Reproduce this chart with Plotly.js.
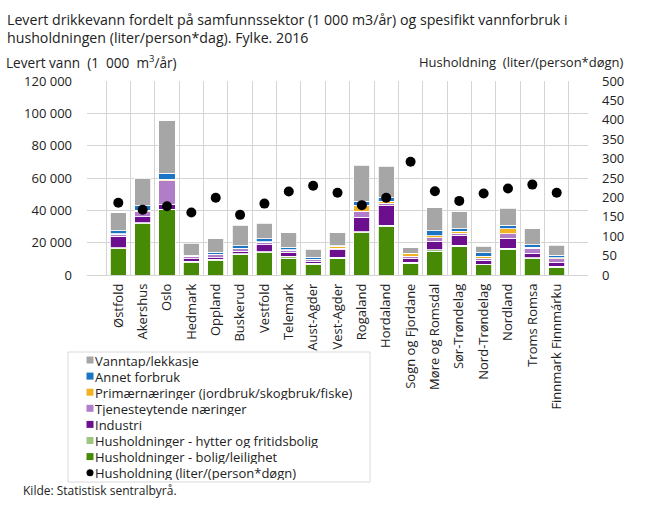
<!DOCTYPE html>
<html><head><meta charset="utf-8">
<script src="https://cdn.plot.ly/plotly-3.0.1.min.js"></script>
<style>html,body{margin:0;padding:0;background:#fff}#chart{width:649px;height:505px}</style>
</head><body><div id="chart"></div>
<script>
const categories = ["Østfold","Akershus","Oslo","Hedmark","Oppland","Buskerud","Vestfold","Telemark","Aust-Agder","Vest-Agder","Rogaland","Hordaland","Sogn og Fjordane","Møre og Romsdal","Sør-Trøndelag","Nord-Trøndelag","Nordland","Troms Romsa","Finnmark Finnmárku"];
const boligLeilighet = [16300,31800,40500,7600,8700,12800,13800,10500,6800,10500,26200,29700,7300,14700,17700,6200,15900,10100,4900];
const hytterFritid = [600,600,200,800,1000,500,500,1000,400,500,600,1000,700,800,800,600,800,600,600];
const industri = [7200,3500,3100,1600,1000,1500,4500,2500,1200,4700,9000,12000,2500,5400,6000,2300,6000,2700,2500];
const tjenesteytende = [1000,3300,14400,1200,1800,1500,1400,1200,1300,1000,3700,1600,1000,2000,1400,1200,2900,3000,2000];
const primaer = [400,800,1000,300,400,300,300,500,200,1000,3500,1200,1600,1400,1200,1400,3100,800,800];
const annetForbruk = [2000,2700,3700,600,1200,1400,2000,1400,1200,500,2500,2300,300,3200,1600,2000,2000,1600,1400];
const vanntap = [11100,17100,32600,7600,8400,12700,9500,9100,4800,8000,22500,19600,3400,14000,10300,4200,10500,9900,6200];
const husholdningLiter = [186,168,177,161,199,155,184,215,230,212,180,199,292,216,191,210,223,233,212];
const leftTicks = [0,20000,40000,60000,80000,100000,120000];
const rightTicks = [0,50,100,150,200,250,300,350,400,450,500];

const series = [
  {name:"Husholdninger - bolig/leilighet", y:boligLeilighet, color:"#468a05"},
  {name:"Husholdninger - hytter og fritidsbolig", y:hytterFritid, color:"#9cc682"},
  {name:"Industri", y:industri, color:"#6b0f8e"},
  {name:"Tjenesteytende næringer", y:tjenesteytende, color:"#b07dc8"},
  {name:"Primærnæringer (jordbruk/skogbruk/fiske)", y:primaer, color:"#f2b222"},
  {name:"Annet forbruk", y:annetForbruk, color:"#1b75c4"},
  {name:"Vanntap/lekkasje", y:vanntap, color:"#a6a6a6"}
];
const dotName = "Husholdning (liter/(person*døgn)";
const traces = series.map(s => ({
  type:"bar", x:categories, y:s.y, name:s.name,
  marker:{color:s.color, line:{color:"#ffffff", width:0.8}}
}));
traces.push({
  type:"scatter", mode:"markers", x:categories, y:husholdningLiter, yaxis:"y2",
  name:dotName, marker:{color:"#000000", size:10}
});

// plot area geometry (pixels) for placing decorations
const L = 87, R = 588, T = 81, B = 275;
const px = v => (v - L) / (R - L);
const py = v => (B - v) / (B - T);

const shapes = [];
const annotations = [
  {xref:"paper", yref:"paper", x:px(5), y:py(8), xanchor:"left", yanchor:"top", showarrow:false, align:"left",
   text:"Levert drikkevann fordelt på samfunnssektor (1 000 m3/år) og spesifikt vannforbruk i<br>husholdningen (liter/person*dag). Fylke. 2016",
   font:{size:14.2, color:"#222"}},
  {xref:"paper", yref:"paper", x:px(4), y:py(62), xanchor:"left", yanchor:"middle", showarrow:false,
   text:"Levert vann  (1  000  m<sup>3</sup>/år)", font:{size:13.6, color:"#222"}},
  {xref:"paper", yref:"paper", x:px(626), y:py(62), xanchor:"right", yanchor:"middle", showarrow:false,
   text:"Husholdning  (liter/(person*døgn)", font:{size:13, color:"#222"}},
  {xref:"paper", yref:"paper", x:px(21), y:py(490), xanchor:"left", yanchor:"middle", showarrow:false,
   text:"Kilde: Statistisk sentralbyrå.", font:{size:12, color:"#222"}}
];

// legend box (drawn with shapes/annotations to match item spacing)
shapes.push({type:"rect", xref:"paper", yref:"paper", x0:px(68), x1:px(370), y0:py(352), y1:py(482),
             line:{color:"#d9d9d9", width:1}, fillcolor:"rgba(0,0,0,0)"});
const legendItems = series.slice().reverse().map(s => ({name:s.name, color:s.color, sym:"square"}));
legendItems.push({name:dotName, color:"#000000", sym:"circle"});
legendItems.forEach((it, i) => {
  const cy = 360 + i * 16.1;
  shapes.push({type: it.sym === "circle" ? "circle" : "rect", xref:"paper", yref:"paper",
    x0:px(86.5), x1:px(93.5), y0:py(cy + 3.5), y1:py(cy - 3.5),
    line:{width:0}, fillcolor:it.color});
  annotations.push({xref:"paper", yref:"paper", x:px(94), y:py(cy), xanchor:"left", yanchor:"middle",
    height:15, valign:"middle", borderpad:0,
    showarrow:false, text:it.name, font:{size:13, color:"#222"}});
});

const layout = {
  width:649, height:505, separators:", ",
  font:{family:"Open Sans, sans-serif", size:13, color:"#222"}, paper_bgcolor:"#fff", plot_bgcolor:"#fff",
  margin:{l:L, r:649 - R, t:T, b:505 - B},
  barmode:"stack", bargap:0.34, showlegend:false,
  xaxis:{type:"category", tickangle:-90, showgrid:true, gridcolor:"#d4d4d4", tickson:"boundaries", automargin:false,
         ticks:"", showline:false, zeroline:false, tickfont:{size:13, color:"#222"}, ticklabelstandoff:5},
  yaxis:{range:[0,120000], tickvals:leftTicks, tickformat:",.0f", showgrid:true, gridcolor:"#d4d4d4", automargin:false,
         zeroline:true, zerolinecolor:"#d4d4d4", ticks:"", ticklabelstandoff:14, tickfont:{size:13, color:"#222"}},
  yaxis2:{range:[0,500], tickvals:rightTicks, overlaying:"y", side:"right", showgrid:false, zeroline:false, automargin:false,
          ticks:"", ticklabelstandoff:13, tickfont:{size:13, color:"#222"}},
  shapes:shapes,
  annotations:annotations
};
Plotly.newPlot("chart", traces, layout, {displayModeBar:false, staticPlot:true});
</script></body></html>
